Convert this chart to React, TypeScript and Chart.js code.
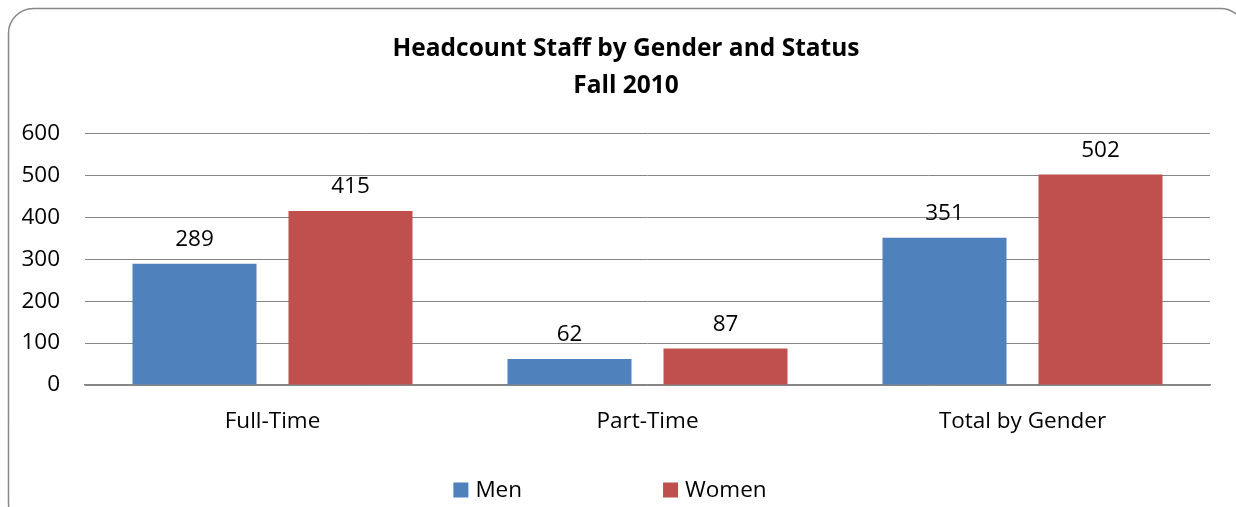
import React, { useEffect, useRef } from 'react';
import { Chart, registerables } from 'chart.js';

Chart.register(...registerables);

const categories = ['Full-Time', 'Part-Time', 'Total by Gender'];
const seriesNames = ['Men', 'Women'];
const menValues = [289, 62, 351];
const womenValues = [415, 87, 502];
const seriesColors = ['#4F81BD', '#C0504D'];
const titleLines = ['Headcount Staff by Gender and Status', 'Fall 2010'];
const yMin = 0;
const yMax = 600;
const yStep = 100;

const FONT = '"Open Sans", "Noto Sans", sans-serif';
const TXT = 22.5;

const borderPlugin = {
  id: 'roundBorder',
  beforeDraw(chart: any) {
    const ctx = chart.ctx;
    ctx.save();
    ctx.strokeStyle = '#878787';
    ctx.lineWidth = 1.5;
    ctx.beginPath();
    (ctx as any).roundRect(8.5, 8.5, 1237, 520, 25);
    ctx.stroke();
    ctx.restore();
  },
};

const valueLabelPlugin = {
  id: 'valueLabels',
  afterDatasetsDraw(chart: any) {
    const ctx = chart.ctx;
    ctx.save();
    ctx.font = `${TXT}px ${FONT}`;
    ctx.fillStyle = '#000';
    ctx.textAlign = 'center';
    ctx.textBaseline = 'middle';
    chart.data.datasets.forEach((ds: any, i: number) => {
      const meta = chart.getDatasetMeta(i);
      meta.data.forEach((el: any, j: number) => {
        ctx.fillText(String(ds.data[j]), el.x, el.y - 24);
      });
    });
    ctx.restore();
  },
};

const legendPlugin = {
  id: 'excelLegend',
  afterDraw(chart: any) {
    const ctx = chart.ctx;
    ctx.save();
    ctx.font = `${TXT}px ${FONT}`;
    ctx.textBaseline = 'middle';
    ctx.textAlign = 'left';
    const box = 15;
    const gapText = 7;
    const gapItems = 141;
    const items = chart.data.datasets.map((ds: any) => ({
      text: ds.label,
      color: ds.backgroundColor,
      w: box + gapText + ctx.measureText(ds.label).width,
    }));
    const total = items.reduce((a: number, it: any) => a + it.w, 0) + gapItems * (items.length - 1);
    let x = 610 - total / 2;
    const cy = 490;
    items.forEach((it: any) => {
      ctx.fillStyle = it.color;
      ctx.fillRect(x, cy - box / 2, box, box);
      ctx.fillStyle = '#000';
      ctx.fillText(it.text, x + box + gapText, cy + 1);
      x += it.w + gapItems;
    });
    ctx.restore();
  },
};

export default function App() {
  const ref = useRef<HTMLCanvasElement | null>(null);

  useEffect(() => {
    if (!ref.current) return;
    Chart.defaults.font.family = FONT;
    const chart = new Chart(ref.current, {
      type: 'bar',
      data: {
        labels: categories,
        datasets: [
          {
            label: seriesNames[0],
            data: menValues,
            backgroundColor: seriesColors[0],
            borderWidth: 0,
            categoryPercentage: 0.832,
            barPercentage: 0.795,
          },
          {
            label: seriesNames[1],
            data: womenValues,
            backgroundColor: seriesColors[1],
            borderWidth: 0,
            categoryPercentage: 0.832,
            barPercentage: 0.795,
          },
        ],
      },
      options: {
        responsive: false,
        animation: false,
        devicePixelRatio: 1,
        layout: { padding: { left: 20, right: 4, top: 0, bottom: 62 } },
        plugins: {
          legend: { display: false },
          tooltip: { enabled: false },
          title: {
            display: true,
            text: titleLines,
            color: '#000',
            font: { family: FONT, size: 24.5, weight: 'bold', lineHeight: 1.5 },
            padding: { top: 31, bottom: 29 },
          },
        },
        scales: {
          x: {
            afterFit: (s: any) => {
              s.height = 60;
            },
            grid: { display: false },
            border: { display: true, color: '#868686', width: 1.5 },
            ticks: { color: '#000', font: { size: TXT, family: FONT }, padding: 15 },
          },
          y: {
            min: yMin,
            max: yMax,
            afterFit: (s: any) => {
              s.width = 65;
            },
            grid: { color: '#868686', lineWidth: 1, drawTicks: false },
            border: { display: false },
            ticks: { stepSize: yStep, color: '#000', font: { size: TXT, family: FONT }, padding: 25 },
          },
          spacer: {
            type: 'linear',
            position: 'right',
            display: true,
            afterFit: (s: any) => {
              s.width = 22;
            },
            grid: { display: false, drawTicks: false },
            border: { display: false },
            ticks: { display: false },
          },
        },
      },
      plugins: [borderPlugin, valueLabelPlugin, legendPlugin],
    });
    return () => chart.destroy();
  }, []);

  return (
    <div style={{ position: 'absolute', left: 0, top: 0, width: 1236, height: 507, background: '#fff' }}>
      <canvas ref={ref} width={1236} height={507} style={{ width: 1236, height: 507, display: 'block' }} />
    </div>
  );
}
